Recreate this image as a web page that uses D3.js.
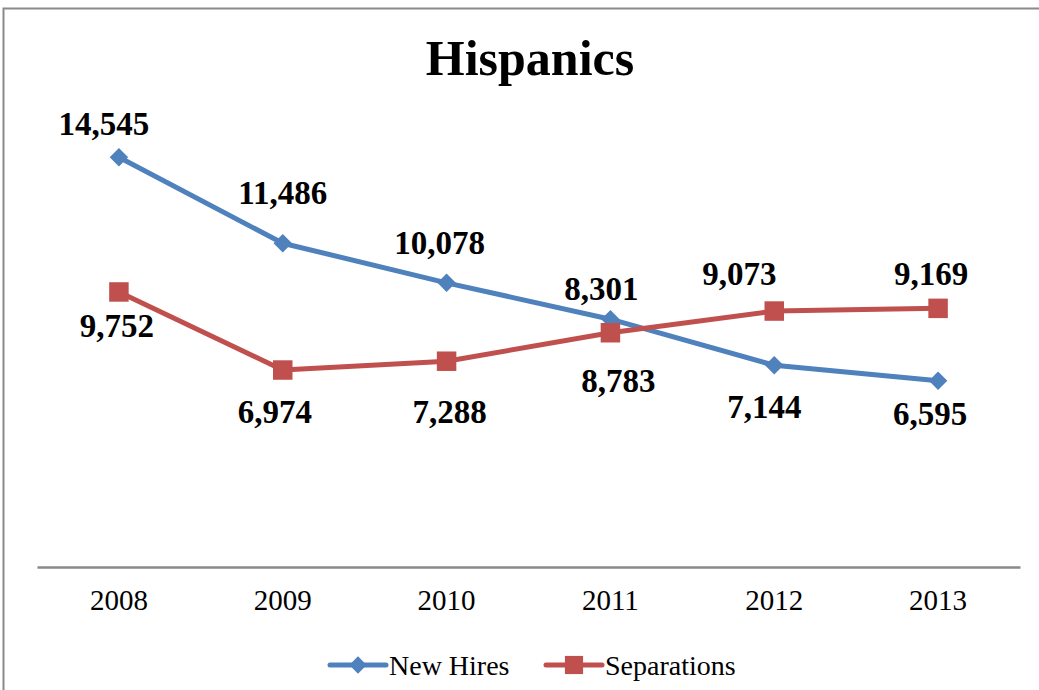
<!DOCTYPE html>
<html>
<head>
<meta charset="utf-8">
<script src="https://cdn.jsdelivr.net/npm/d3@7"></script>
<style>
  html, body { margin: 0; padding: 0; background: #fff; }
  svg { display: block; }
</style>
</head>
<body>
<svg id="chart" width="1039" height="690"></svg>
<script>
// ---- data ----
const years = ["2008", "2009", "2010", "2011", "2012", "2013"];
const newHires = [14545, 11486, 10078, 8783, 7144, 6595];
const separations = [9752, 6974, 7288, 8301, 9073, 9169];
// data label texts as printed in the chart
const newHiresLabels = ["14,545", "11,486", "10,078", "8,301", "7,144", "6,595"];
const separationsLabels = ["9,752", "6,974", "7,288", "8,783", "9,073", "9,169"];
const yDomain = [0, 16000];
const chartTitle = "Hispanics";
const seriesNames = ["New Hires", "Separations"];

// ---- layout (manual label nudges relative to each point, in px) ----
const newHiresNudge = [[-15, -22], [0, -39], [-7, -29], [-9, -19], [-10, 53], [-8, 44]];
const separationsNudge = [[-2, 45], [-8, 53], [3, 62], [8, 59], [-35, -26], [-7, -23]];

const blue = "#4F81BD", red = "#C0504D";
const serif = "'Liberation Serif', 'Times New Roman', serif";

const svg = d3.select("#chart");

// outer border
svg.append("rect")
  .attr("x", 3.5).attr("y", 8.5)
  .attr("width", 1060).attr("height", 700)
  .attr("fill", "none").attr("stroke", "#8a8a8a").attr("stroke-width", 2);

// title
svg.append("text")
  .attr("x", 530).attr("y", 75)
  .attr("text-anchor", "middle")
  .attr("font-family", serif).attr("font-weight", "bold")
  .attr("font-size", 50).attr("fill", "#000")
  .text(chartTitle);

const x = d3.scaleBand().domain(years).range([37, 1020]);
const cx = d => x(d) + x.bandwidth() / 2;
const y = d3.scaleLinear().domain(yDomain).range([566, 116.4]);

// x axis
const xAxis = svg.append("g").attr("transform", "translate(0,567)")
  .call(d3.axisBottom(x).tickSize(0).tickPadding(0));
xAxis.select(".domain").attr("stroke", "#8a8a8a").attr("stroke-width", 2.5);
xAxis.selectAll("text")
  .attr("font-family", serif).attr("font-size", 29).attr("fill", "#000")
  .attr("dy", 0).attr("y", 43);

const line = d3.line().x(d => cx(d.year)).y(d => y(d.v));

function drawSeries(values, color, marker) {
  const pts = years.map((yr, i) => ({ year: yr, v: values[i] }));
  svg.append("path").datum(pts)
    .attr("d", line)
    .attr("fill", "none").attr("stroke", color)
    .attr("stroke-width", 5).attr("stroke-linejoin", "round");
  const sym = marker === "diamond"
    ? d3.symbol().type(d3.symbolSquare).size(170)
    : d3.symbol().type(d3.symbolSquare).size(380);
  svg.selectAll(null).data(pts).enter().append("path")
    .attr("d", sym)
    .attr("transform", d => `translate(${cx(d.year)},${y(d.v)})` + (marker === "diamond" ? " rotate(45)" : ""))
    .attr("fill", color);
}

drawSeries(newHires, blue, "diamond");
drawSeries(separations, red, "square");

function drawLabels(values, labels, nudge) {
  svg.selectAll(null).data(years).enter().append("text")
    .attr("x", (d, i) => cx(d) + nudge[i][0])
    .attr("y", (d, i) => y(values[i]) + nudge[i][1])
    .attr("text-anchor", "middle")
    .attr("font-family", serif).attr("font-weight", "bold")
    .attr("font-size", 33).attr("fill", "#000")
    .text((d, i) => labels[i]);
}
drawLabels(newHires, newHiresLabels, newHiresNudge);
drawLabels(separations, separationsLabels, separationsNudge);

// legend
const legend = [
  { name: seriesNames[0], color: blue, marker: "diamond", x0: 330 },
  { name: seriesNames[1], color: red, marker: "square", x0: 546 }
];
const ly = 665;
legend.forEach(l => {
  svg.append("line")
    .attr("x1", l.x0).attr("x2", l.x0 + 56)
    .attr("y1", ly).attr("y2", ly)
    .attr("stroke", l.color).attr("stroke-width", 5).attr("stroke-linecap", "round");
  svg.append("path")
    .attr("d", d3.symbol().type(d3.symbolSquare).size(l.marker === "diamond" ? 150 : 330))
    .attr("transform", `translate(${l.x0 + 28},${ly})` + (l.marker === "diamond" ? " rotate(45)" : ""))
    .attr("fill", l.color);
  svg.append("text")
    .attr("x", l.x0 + 59).attr("y", ly + 10)
    .attr("font-family", serif).attr("font-size", 28).attr("fill", "#000")
    .text(l.name);
});
</script>
</body>
</html>
